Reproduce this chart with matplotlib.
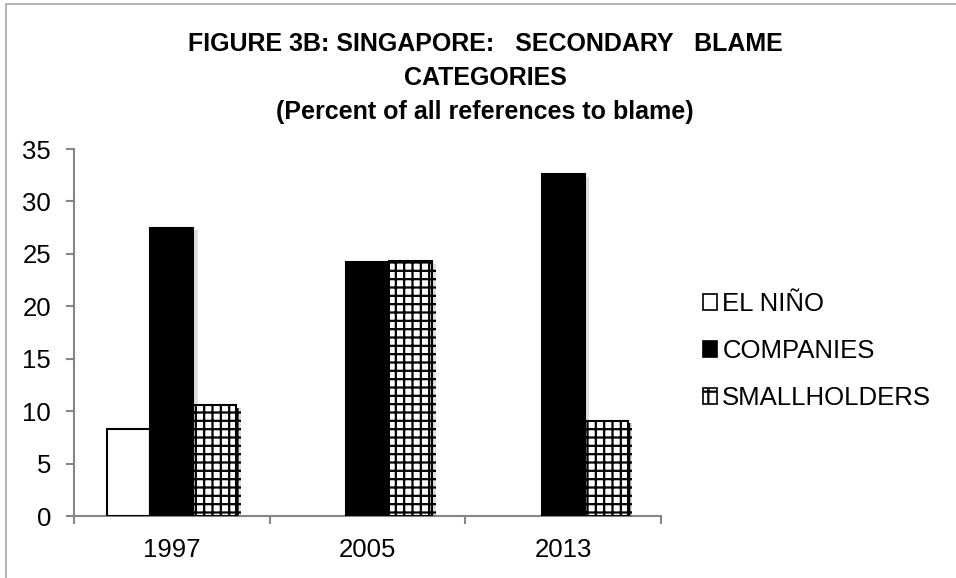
import matplotlib
matplotlib.use("Agg")
import matplotlib.pyplot as plt
import matplotlib.patheffects as pe
from matplotlib.patches import Rectangle
import numpy as np

plt.rcParams['font.family'] = ['Liberation Sans', 'DejaVu Sans']
plt.rcParams['hatch.linewidth'] = 1.6

years = ["1997", "2005", "2013"]
series_names = ["EL NIÑO", "COMPANIES", "SMALLHOLDERS"]
el_nino = [8.3, 0, 0]
companies = [27.5, 24.2, 32.6]
smallholders = [10.6, 24.3, 9.1]
y_ticks = [0, 5, 10, 15, 20, 25, 30, 35]
title_text = ("FIGURE 3B: SINGAPORE:   SECONDARY   BLAME\n"
              "CATEGORIES\n"
              "(Percent of all references to blame)")

fig = plt.figure(figsize=(9.56, 5.78), dpi=100)
fig.patch.set_facecolor('white')
# outer chart border (left/top visible)
fig.add_artist(Rectangle((6/956, -0.1), 1.2, 1 - 4/578 + 0.1, transform=fig.transFigure,
                         fill=False, edgecolor='#a6a6a6', linewidth=1.2))

ax = fig.add_axes([74/956, 1 - 516/578, (661 - 74)/956, (516 - 149)/578])

x = np.arange(len(years))
w = 0.22
shadow = [pe.SimplePatchShadow(offset=(3, -2), shadow_rgbFace='#000000', alpha=0.12), pe.Normal()]

styles = [
    dict(facecolor='white', edgecolor='black', hatch=None),
    dict(facecolor='black', edgecolor='black', hatch=None),
    dict(facecolor='white', edgecolor='black', hatch='++'),
]
data = [el_nino, companies, smallholders]
handles = []
for i, (vals, st, name) in enumerate(zip(data, styles, series_names)):
    bars = ax.bar(x + (i - 1) * w, vals, width=w, facecolor=st['facecolor'],
                  edgecolor=st['edgecolor'], hatch=st['hatch'], linewidth=1.5,
                  label=name, zorder=3)
    for b, v in zip(bars, vals):
        if v == 0:
            b.set_visible(False)
        else:
            b.set_path_effects(shadow)
    handles.append(bars)

ax.set_xlim(-0.5, 2.5)
ax.set_ylim(0, 35)
ax.set_yticks(y_ticks)
ax.set_xticks(x)
ax.set_xticklabels(years)
ax.set_xticks([-0.5, 0.5, 1.5, 2.5], minor=True)

for s in ['top', 'right']:
    ax.spines[s].set_visible(False)
for s in ['left', 'bottom']:
    ax.spines[s].set_color('#868686')
    ax.spines[s].set_linewidth(1.5)

ax.tick_params(axis='y', which='major', length=6, width=1.5, color='#868686',
               labelsize=18.5, pad=10.5, direction='out')
ax.tick_params(axis='x', which='major', length=0, labelsize=18.5, pad=16)
ax.tick_params(axis='x', which='minor', length=6, width=1.5, color='#868686', direction='out')

fig.text(485/956, 1 - 78/578, title_text,
         ha='center', va='center', fontsize=18, fontweight='bold', linespacing=1.55)

leg = fig.legend(handles=handles, labels=series_names, loc='center left',
                 bbox_to_anchor=(703/956, 1 - 351/578), frameon=False,
                 fontsize=18.5, handlelength=0.55, handleheight=0.55,
                 handletextpad=0.2, labelspacing=0.89, borderpad=0, borderaxespad=0)
for h in leg.legend_handles:
    h.set_linewidth(1.2)
    h.set_path_effects([])
leg.legend_handles[2].set_hatch('+')

fig.savefig("out.png", dpi=100, facecolor='white')
